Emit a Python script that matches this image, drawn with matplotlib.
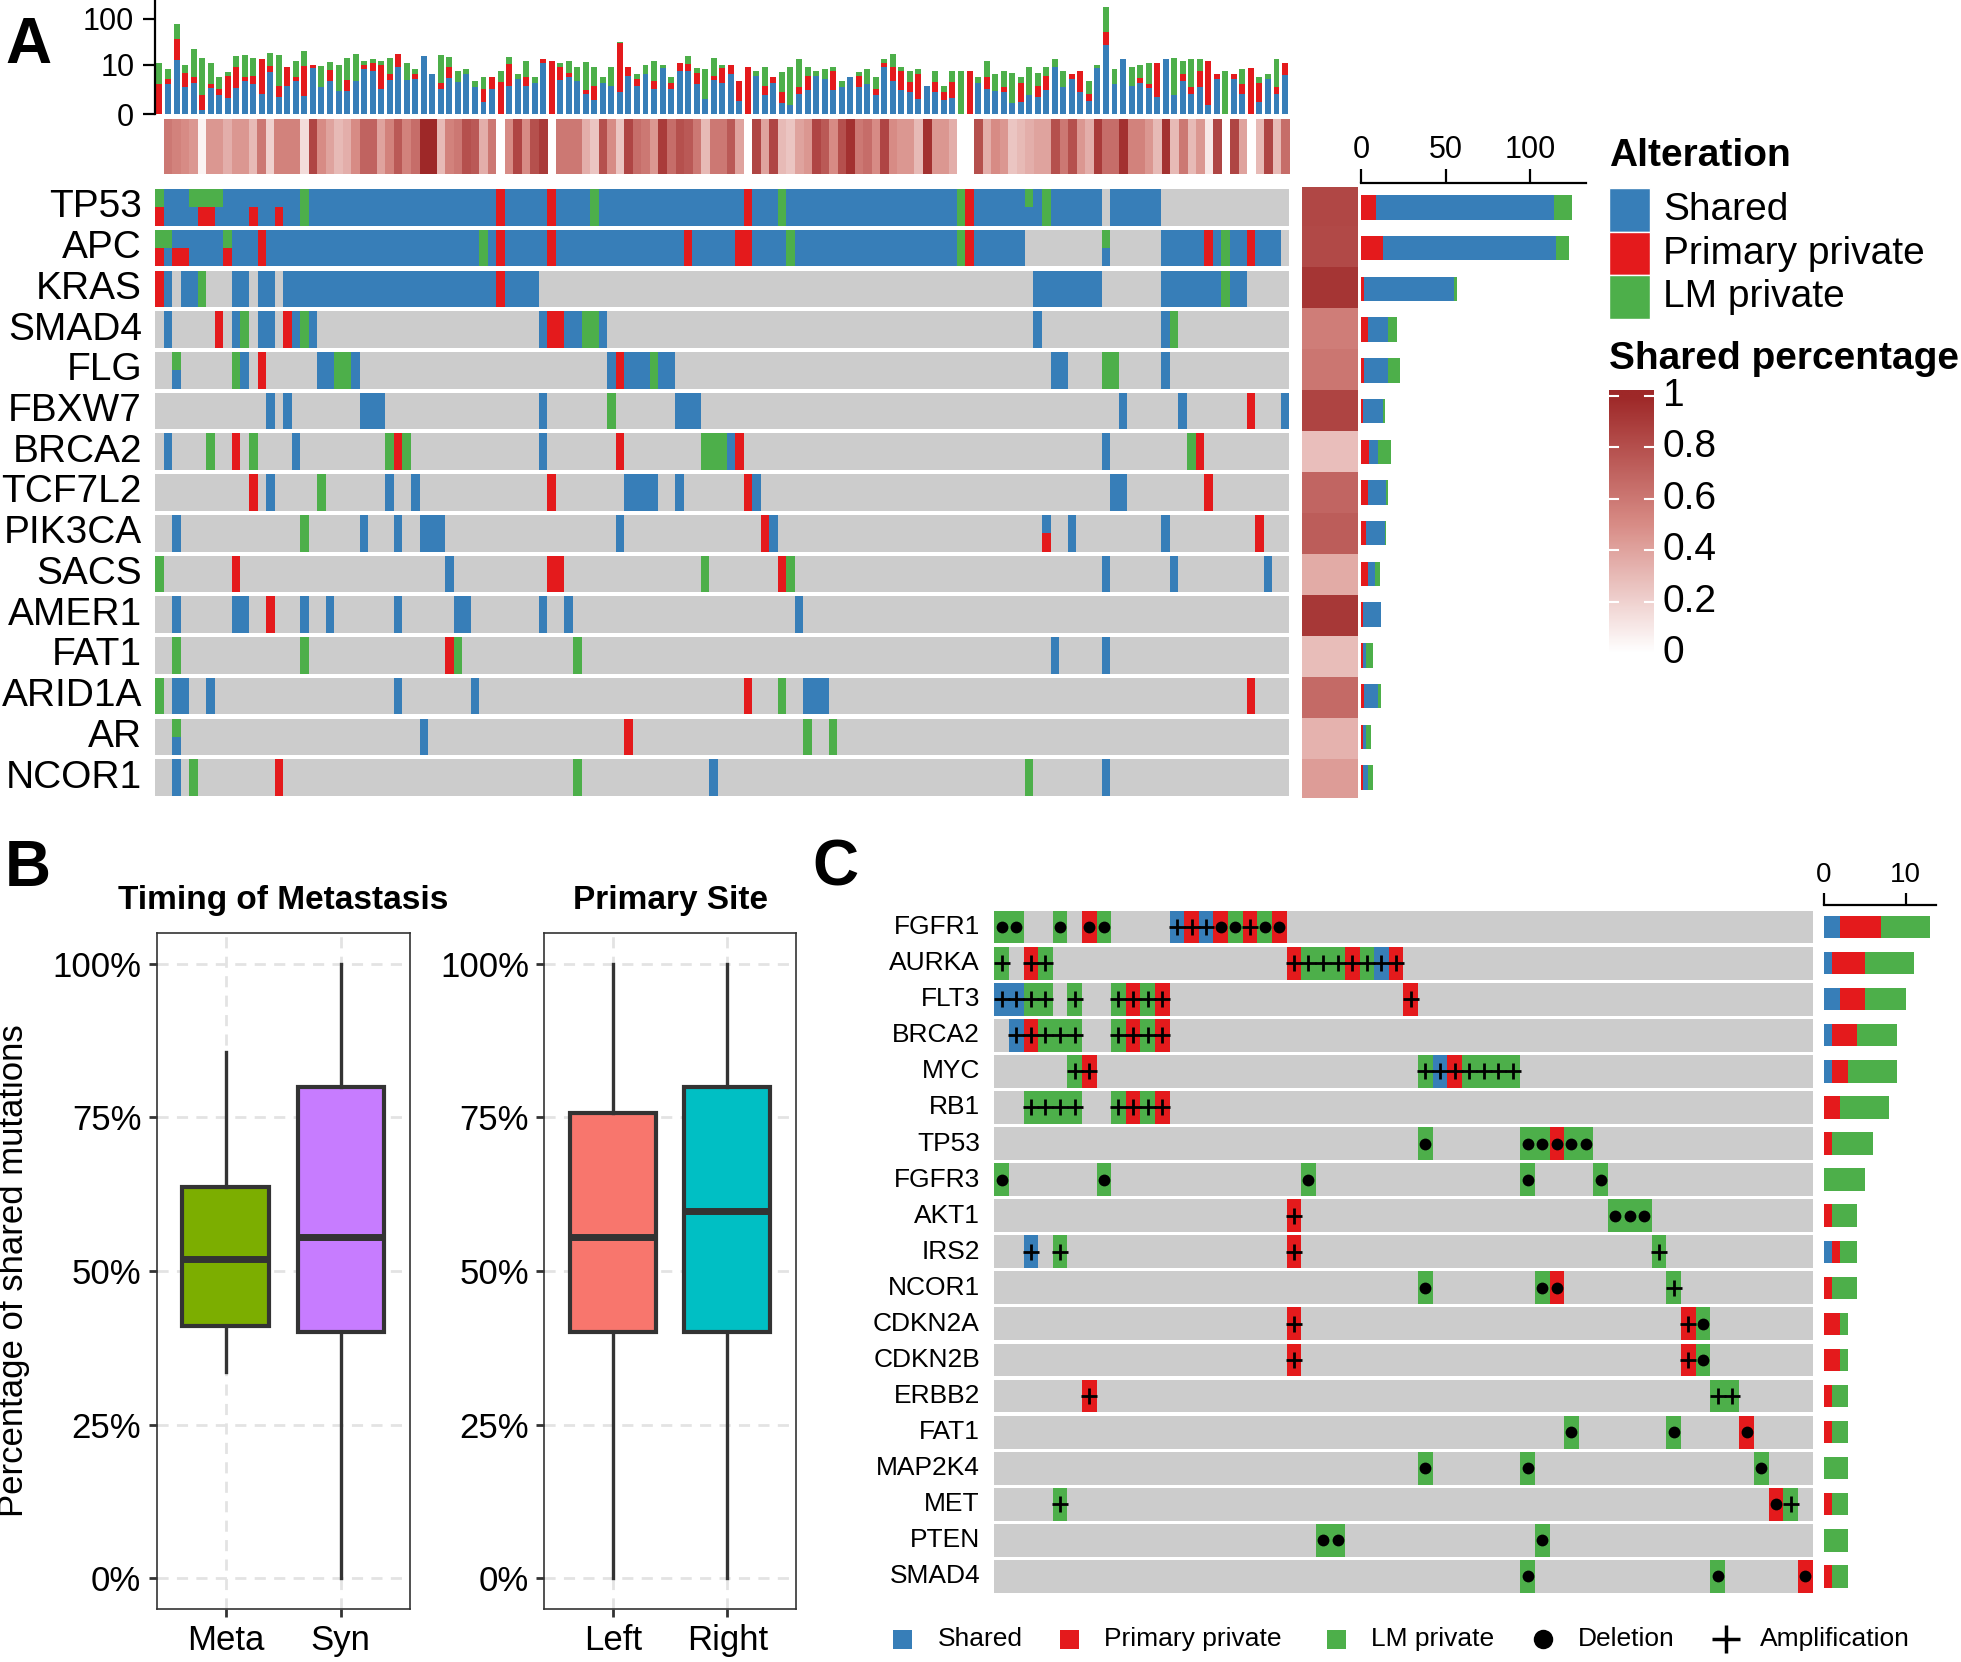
import numpy as np
import matplotlib.pyplot as plt
from matplotlib.colors import LinearSegmentedColormap
from matplotlib.patches import Rectangle

plt.rcParams['font.family'] = ['Liberation Sans', 'DejaVu Sans']

W, H = 1961, 1662
BLUE, RED, GREEN, GREY = '#377EB8', '#E41A1C', '#4DAF4A', '#CCCCCC'
COLS = {'S': BLUE, 'P': RED, 'L': GREEN}

# ---------------- panel A data ----------------
n_samples = 133
genes_a = ["TP53", "APC", "KRAS", "SMAD4", "FLG", "FBXW7", "BRCA2", "TCF7L2",
           "PIK3CA", "SACS", "AMER1", "FAT1", "ARID1A", "AR", "NCOR1"]
# column:code, S shared / P primary private / L LM private, "top/bottom" for split cells
alt_a = [
    "0:L/P 1-3:S 4:L/S 5-6:L/P 7:L/S 8-10:S 11:S/P 12-13:S 14:S/P 15-16:S 17:L 18-39:S 40:P "
    "41-45:S 46:P 47-50:S 51:L 52-68:S 69:P 70-72:S 73:L 74-93:S 94:L 95:P 96-101:S 102:L/S "
    "103:S 104:L 105-110:S 112-117:S",
    "0:L/P 1:L/S 2-3:S/P 4-7:S 8:L/P 9-11:S 12:P 13-37:S 38:L 39:S 40:P 41-45:S 46:P 47-61:S "
    "62:P 63-67:S 68-69:P 70-73:S 74:L 75-93:S 94:L 95:P 96-101:S 111:L/S 118-122:S 123:P "
    "124:S 125:L 126-127:S 128:P 129-131:S",
    "0:P 1:S 3-4:S 5:L 9-10:S 12-13:S 15-39:S 40:P 41-44:S 103-110:S 118-124:S 125:L 126-127:S",
    "1:S 7:P 9:S 10:L 12-13:S 15:P 16:S 17:L 18:S 45:S 46-47:P 48-49:S 50-51:L 52:S 103:S "
    "118:S 119:L",
    "2:L/S 9:L 10:S 12:P 19-20:S 21-22:L 23:S 53:S 54:P 55-57:S 58:L 59-60:S 105-106:S "
    "111-112:L 118:S",
    "13:S 15:S 24-26:S 45:S 53:L 61-63:S 113:S 120:S 128:P 132:S",
    "1:S 6:L 9:P 11:L 16:S 27:L 28:P 29:L 45:S 54:P 64-66:L 67:S 68:P 111:S 121:L 122:P",
    "11:P 13:S 19:L 27:S 30:S 46:P 55-58:S 61:S 69:P 70:S 112-113:S 123:P",
    "2:S 17:L 24:S 28:S 31-33:S 54:S 71:P 72:S 104:S/P 107:S 118:S 129:P",
    "0:L 9:P 34:S 46-47:P 64:L 73:P 74:L 111:S 119:S 130:S",
    "2:S 9-10:S 13:P 17:S 20:S 28:S 35-36:S 45:S 48:S 75:S",
    "2:L 17:L 34:P 35:L 49:L 105:S 111:S",
    "0:L 2-3:S 6:S 28:S 37:S 69:P 73:L 76-78:S 128:P",
    "2:L/S 31:S 55:P 76:L 79:L",
    "2:S 4:L 14:P 49:L 65:S 102:L 111:S",
]
# per-sample stacked bar heights, in log10(count + 1) axis units
bar_shared = [0, .64, 1.13, .57, .66, .08, .54, .40, .34, .54, .69, .64, .42, .89, .36, .59,
              .69, .38, .96, .57, .69, .48, .48, .69, .94, .90, .52, .71, .98, .71, .73, 1.22,
              .85, .52, .76, .68, .85, .56, .26, .52, 0, .59, .73, .59, .66, 1.08, 0, .71, .78,
              .69, .43, .29, .66, .59, .46, .80, .59, .85, .52, .96, .52, .90, .90, .64, .31,
              .71, .66, .85, .27, 0, .80, .40, .66, .24, .20, .42, .50, .80, .73, .50, .56, .78,
              .57, .64, .40, .98, .69, .50, .46, .31, .59, .46, .29, .34, 0, 0, .66, .52, .48,
              .46, .24, .26, .40, .36, .50, .98, .57, .73, .46, .27, .96, 1.45, .64, 1.15, .59,
              .66, .54, .36, 1.15, .40, .69, .42, .57, .18, .73, 0, .73, .42, 0, .26, .73, .42,
              .82]
bar_primary = [.64, .09, .44, .29, .12, .31, .10, .12, .45, .44, .08, .16, .73, .13, .22, .40,
               .08, .64, .07, 0, .24, 0, .23, 0, .10, .18, .52, .14, .28, 0, .12, 0, 0, .14,
               .22, 0, 0, 0, .26, .26, .68, .46, 0, .18, 0, .08, 1.11, .28, .08, 0, .08, .30, 0,
               0, 1.03, .20, .14, 0, .17, 0, .14, .18, .16, .22, 0, .08, .30, .18, .42, .99, 0,
               .20, .12, .22, 0, .15, .29, 0, 0, .40, 0, 0, .22, 0, .12, .10, .29, .40, .22,
               .54, 0, .22, .17, .34, 0, .90, 0, .26, 0, .11, 0, .40, 0, .24, .29, 0, 0, .12,
               .44, .15, 0, .28, 0, 0, 0, .10, .10, .72, 0, 0, .16, .15, .33, .93, .12, 0, .12,
               .22, .96, .40, 0, .15, .26]
bar_lm = [.43, .22, .33, .17, .58, .78, .43, .26, .10, .24, .48, .38, 0, .27, .66, 0, .34, .30,
          0, .45, .17, .55, .46, .57, .08, .08, .08, .32, 0, .36, .10, 0, 0, .58, .22, .22, .10,
          .13, .26, 0, .22, .16, .12, .34, .12, 0, 0, .08, .26, .30, .59, .40, .12, .40, .03,
          0, .12, .18, .42, .08, .12, 0, .16, .10, .64, .38, .08, 0, 0, 0, .10, .40, 0, .43,
          .79, .58, .20, .10, .22, .09, .14, 0, .10, .31, .26, .08, .28, .09, .22, .10, 0, .22,
          .13, .22, .90, 0, .12, .34, .37, .33, .62, .12, .59, .26, .20, .17, .33, 0, 0, .28,
          .08, .52, .31, 0, .40, .28, .43, 0, 0, .78, .26, .58, .25, 0, 0, .90, 0, .31, 0,
          .12, .12, .58, 0]
sample_shared_pct = [0, .6, .55, .5, .45, .05, .45, .45, .35, .45, .45, .3, .6, .2, .55, .55,
                     .55, .15, .85, .5, .4, .3, .35, .5, .7, .7, .4, .55, .75, .55, .65, 1.0,
                     1.0, .3, .55, .6, .8, .75, .35, .6, 0, .5, .85, .5, .8, .9, 0, .6, .6, .6,
                     .35, .25, .8, .5, .25, .85, .65, .6, .45, .9, .65, .8, .75, .6, .3, .6,
                     .6, .75, .4, 0, .85, .4, .85, .3, .25, .4, .45, .85, .75, .5, .8, .95, .6,
                     .65, .5, .85, .5, .45, .45, .3, .95, .45, .45, .35, 0, 0, .8, .35, .5,
                     .45, .25, .3, .35, .4, .4, .8, .6, .8, .45, .35, .9, .65, .65, .95, .55,
                     .55, .45, .3, .95, .3, .6, .3, .45, .1, .85, 0, .85, .4, 0, .3, .85, .3,
                     .65]

# ---------------- panel B data ----------------
box_titles = ["Timing of Metastasis", "Primary Site"]
box_groups = [["Meta", "Syn"], ["Left", "Right"]]
box_colors = [["#7CAE00", "#C77CFF"], ["#F8766D", "#00BFC4"]]
box_low = [[0.335, 0.0], [0.0, 0.0]]
box_q1 = [[0.41, 0.40], [0.40, 0.40]]
box_med = [[0.52, 0.555], [0.555, 0.598]]
box_q3 = [[0.637, 0.80], [0.757, 0.80]]
box_high = [[0.857, 1.0], [1.0, 1.0]]

# ---------------- panel C data ----------------
n_cases = 56
genes_c = ["FGFR1", "AURKA", "FLT3", "BRCA2", "MYC", "RB1", "TP53", "FGFR3", "AKT1", "IRS2",
           "NCOR1", "CDKN2A", "CDKN2B", "ERBB2", "FAT1", "MAP2K4", "MET", "PTEN", "SMAD4"]
# column:type+event, D deletion / A amplification
alt_c = [
    "0-1:LD 4:LD 6:PD 7:LD 12:SA 13:PA 14:SA 15:PD 16:LD 17:PA 18:LD 19:PD",
    "0:LA 2:PA 3:LA 20:PA 21-23:LA 24:PA 25:LA 26:SA 27:PA",
    "0-1:SA 2-3:LA 5:LA 8:LA 9:PA 10:LA 11:PA 28:PA",
    "1:SA 2:PA 3-5:LA 8:LA 9:PA 10:LA 11:PA",
    "5:LA 6:PA 29:LA 30:SA 31:PA 32-35:LA",
    "2-5:LA 8:LA 9:PA 10:LA 11:PA",
    "29:LD 36-37:LD 38:PD 39-40:LD",
    "0:LD 7:LD 21:LD 36:LD 41:LD",
    "20:PA 42-44:LD",
    "2:SA 4:LA 20:PA 45:LA",
    "29:LD 37:LD 38:PD 46:LA",
    "20:PA 47:PA 48:LD",
    "20:PA 47:PA 48:LD",
    "6:PA 49-50:LA",
    "39:LD 46:LD 51:PD",
    "29:LD 36:LD 52:LD",
    "4:LA 53:PD 54:LA",
    "22-23:LD 37:LD",
    "36:LD 49:LD 55:PD",
]


def parse(spec, n):
    cells = [None] * n
    for tok in spec.split():
        span, code = tok.split(':')
        a, _, b = span.partition('-')
        for c in range(int(a), int(b or a) + 1):
            cells[c] = code
    return cells


def runs(keys):
    out, start = [], 0
    for c in range(1, len(keys) + 1):
        if c == len(keys) or keys[c] != keys[start]:
            if keys[start] is not None:
                out.append((start, c - start, keys[start]))
            start = c
    return out


fig = plt.figure(figsize=(W / 100, H / 100), dpi=100)


def px_axes(x0, y0, x1, y1):
    return fig.add_axes([x0 / W, 1 - y1 / H, (x1 - x0) / W, (y1 - y0) / H])


ov = fig.add_axes([0, 0, 1, 1])
ov.set_xlim(0, W)
ov.set_ylim(H, 0)
ov.axis('off')

cmap = LinearSegmentedColormap.from_list('sp', [(0, '#FFFFFF'), (0.5, '#D88C86'), (1, '#9E2828')])

# ================= panel A =================
XA0, XA1 = 155.2, 1289.3
YA0, YA1 = 187, 798
pitch_a = (YA1 - YA0) / len(genes_a)

# top barplot
ax = px_axes(XA0, 0, XA1, 114)
x = np.arange(n_samples) + 0.5
s, p, l = np.array(bar_shared), np.array(bar_primary), np.array(bar_lm)
ax.bar(x, s, 0.7, color=BLUE, lw=0)
ax.bar(x, p, 0.7, bottom=s, color=RED, lw=0)
ax.bar(x, l, 0.7, bottom=s + p, color=GREEN, lw=0)
ax.set_xlim(0, n_samples)
ax.set_ylim(0, 2.4)
for sp in ['top', 'right', 'bottom']:
    ax.spines[sp].set_visible(False)
ax.spines['left'].set_linewidth(1.6)
ax.set_xticks([])
ax.set_yticks(np.log10([1, 11, 101]))
ax.set_yticklabels(['0', '10', '100'])
ax.tick_params(axis='y', labelsize=22, length=9, width=1.6, pad=6)

# sample shared percentage band
ax = px_axes(XA0, 119, XA1, 174)
ax.imshow(np.array(sample_shared_pct)[None, :], cmap=cmap, vmin=0, vmax=1, aspect='auto',
          extent=(0, n_samples, 0, 1), interpolation='nearest')
ax.axis('off')

# oncoprint
ax = px_axes(XA0, YA0, XA1, YA1)
ax.set_xlim(0, n_samples)
ax.set_ylim(len(genes_a), 0)
ax.axis('off')
counts = {k: np.zeros(len(genes_a)) for k in 'SPL'}
for r, spec in enumerate(alt_a):
    cells = parse(spec, n_samples)
    ax.add_patch(Rectangle((0, r + 0.05), n_samples, 0.9, color=GREY, lw=0))
    for c0, w, code in runs(cells):
        if '/' in code:
            t, b = code.split('/')
            ax.add_patch(Rectangle((c0, r + 0.05), w, 0.45, color=COLS[t], lw=0))
            ax.add_patch(Rectangle((c0, r + 0.5), w, 0.45, color=COLS[b], lw=0))
        else:
            ax.add_patch(Rectangle((c0, r + 0.05), w, 0.9, color=COLS[code], lw=0))
    for code in cells:
        if code:
            for part in code.split('/'):
                counts[part][r] += 1
    ov.text(142, YA0 + (r + 0.5) * pitch_a, genes_a[r], ha='right', va='center', fontsize=28)

# gene shared percentage column
gene_pct = counts['S'] / (counts['S'] + counts['P'] + counts['L'])
ax = px_axes(1302, YA0, 1357, YA1)
ax.imshow(gene_pct[:, None], cmap=cmap, vmin=0, vmax=1, aspect='auto',
          extent=(0, 1, len(genes_a), 0), interpolation='nearest')
ax.set_ylim(len(genes_a) - 0.05, 0.05)
ax.axis('off')

# side barplot
ax = px_axes(1361, 183, 1586, YA1)
yr = np.arange(len(genes_a)) + 0.5
ax.barh(yr, counts['P'], 0.6, color=RED, lw=0)
ax.barh(yr, counts['S'], 0.6, left=counts['P'], color=BLUE, lw=0)
ax.barh(yr, counts['L'], 0.6, left=counts['P'] + counts['S'], color=GREEN, lw=0)
ax.set_xlim(0, 133)
ax.set_ylim(len(genes_a), -(YA0 - 183) / pitch_a)
for sp in ['bottom', 'left', 'right']:
    ax.spines[sp].set_visible(False)
ax.spines['top'].set_linewidth(1.6)
ax.xaxis.tick_top()
ax.set_xticks([0, 50, 100])
ax.set_yticks([])
ax.tick_params(axis='x', labelsize=22, length=10, width=1.6, pad=3)

# legends
ov.text(1609, 156, 'Alteration', fontsize=28, fontweight='bold', va='center')
for k, (lab, col) in enumerate([('Shared', BLUE), ('Primary private', RED), ('LM private', GREEN)]):
    y0 = 188 + k * 43.7
    ov.add_patch(Rectangle((1609, y0), 41, 43.7, facecolor=col, edgecolor='white', lw=1))
    ov.text(1663, y0 + 22, lab, fontsize=28, va='center')
ov.text(1609, 359, 'Shared percentage', fontsize=28, fontweight='bold', va='center')
ax = px_axes(1609, 390, 1654, 656)
grad = np.linspace(1.023, -0.012, 300)[:, None]
ax.imshow(np.clip(grad, 0, 1), cmap=cmap, vmin=0, vmax=1, aspect='auto',
          extent=(0, 1, -0.012, 1.023))
ax.set_xlim(0, 1)
ax.set_ylim(-0.012, 1.023)
ax.axis('off')
for v, lab in zip([0, .2, .4, .6, .8, 1], ['0', '0.2', '0.4', '0.6', '0.8', '1']):
    ax.plot([0, 0.2], [v, v], color='white', lw=1.5)
    ax.plot([0.8, 1], [v, v], color='white', lw=1.5)
    ov.text(1663, 653 - v * 257, lab, fontsize=28, va='center')

ov.text(28, 46, 'A', fontsize=46, fontweight='bold', ha='center', va='center')

# ================= panel B =================
bx = [(156.6, 409.7), (544.4, 795.9)]
for k in range(2):
    ax = px_axes(bx[k][0], 933, bx[k][1], 1609)
    stats = [dict(whislo=box_low[k][j], q1=box_q1[k][j], med=box_med[k][j], q3=box_q3[k][j],
                  whishi=box_high[k][j], fliers=[]) for j in range(2)]
    bp = ax.bxp(stats, positions=[1, 2], widths=0.75, patch_artist=True, showfliers=False,
                showcaps=False,
                boxprops=dict(edgecolor='#333333', linewidth=3.0),
                medianprops=dict(color='#333333', linewidth=5, solid_capstyle='butt'),
                whiskerprops=dict(color='#333333', linewidth=2.4))
    for patch, col in zip(bp['boxes'], box_colors[k]):
        patch.set_facecolor(col)
    ax.set_xlim(0.4, 2.6)
    ax.set_ylim(-0.05, 1.05)
    ax.set_axisbelow(True)
    ax.grid(True, color='#E3E3E3', linestyle=(0, (4, 3)), linewidth=2)
    ax.set_xticks([1, 2])
    ax.set_xticklabels(box_groups[k])
    ax.set_yticks([0, .25, .5, .75, 1])
    ax.set_yticklabels(['0%', '25%', '50%', '75%', '100%'])
    ax.tick_params(labelsize=25, length=6, width=2, color='#333333', labelcolor='black', pad=5)
    for sp in ax.spines.values():
        sp.set_color('#333333')
        sp.set_linewidth(1.2)
    ov.text((bx[k][0] + bx[k][1]) / 2, 900, box_titles[k], fontsize=24, fontweight='bold',
            ha='center', va='center')
ov.text(14, 1271, 'Percentage of shared mutations', fontsize=25, rotation=90,
        ha='center', va='center')
ov.text(28, 869, 'B', fontsize=46, fontweight='bold', ha='center', va='center')

# ================= panel C =================
XC0, XC1 = 994.3, 1812.5
YC0, YC1 = 909, 1594.5
pitch_c = (YC1 - YC0) / len(genes_c)
ax = px_axes(XC0, YC0, XC1, YC1)
ax.set_xlim(0, n_cases)
ax.set_ylim(len(genes_c), 0)
ax.axis('off')
counts_c = {k: np.zeros(len(genes_c)) for k in 'SPL'}
for r, spec in enumerate(alt_c):
    cells = parse(spec, n_cases)
    ax.add_patch(Rectangle((0, r + 0.045), n_cases, 0.91, color=GREY, lw=0))
    for c0, w, t in runs([c[0] if c else None for c in cells]):
        ax.add_patch(Rectangle((c0, r + 0.045), w, 0.91, color=COLS[t], lw=0))
    for c, code in enumerate(cells):
        if code is None:
            continue
        counts_c[code[0]][r] += 1
        if code[1] == 'D':
            ax.plot(c + 0.5, r + 0.5, 'o', color='black', ms=8.5, mew=0)
        else:
            ax.plot(c + 0.5, r + 0.5, '+', color='black', ms=11, mew=2)
    ov.text(980, YC0 + (r + 0.5) * pitch_c, genes_c[r], ha='right', va='center', fontsize=19)

ax = px_axes(1824, 905, 1936, YC1)
yc = np.arange(len(genes_c)) + 0.5
ax.barh(yc, counts_c['S'], 0.62, color=BLUE, lw=0)
ax.barh(yc, counts_c['P'], 0.62, left=counts_c['S'], color=RED, lw=0)
ax.barh(yc, counts_c['L'], 0.62, left=counts_c['S'] + counts_c['P'], color=GREEN, lw=0)
ax.set_xlim(0, 13.74)
ax.set_ylim(len(genes_c), -4 / pitch_c)
for sp in ['bottom', 'left', 'right']:
    ax.spines[sp].set_visible(False)
ax.spines['top'].set_linewidth(1.6)
ax.xaxis.tick_top()
ax.set_xticks([0, 10])
ax.set_yticks([])
ax.tick_params(axis='x', labelsize=20, length=9, width=1.6, pad=3)

# bottom legend
yl = 1639
for xs, xt, col, lab in [(893, 938, BLUE, 'Shared'), (1060, 1104, RED, 'Primary private'),
                         (1327, 1371, GREEN, 'LM private')]:
    ov.add_patch(Rectangle((xs, yl - 9.5), 19, 19, color=col, lw=0))
    ov.text(xt, yl, lab, fontsize=19, va='center')
ov.plot(1543, yl, 'o', color='black', ms=14, mew=0)
ov.text(1578, yl, 'Deletion', fontsize=19, va='center')
ov.plot(1726, yl, '+', color='black', ms=20, mew=2.5)
ov.text(1760, yl, 'Amplification', fontsize=19, va='center')
ov.text(835, 869, 'C', fontsize=46, fontweight='bold', ha='center', va='center')

fig.savefig('out.png', dpi=100)
